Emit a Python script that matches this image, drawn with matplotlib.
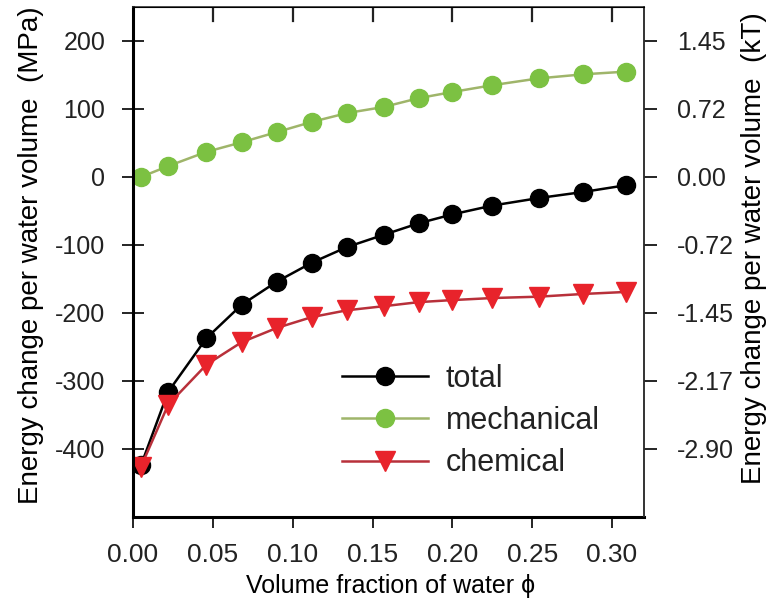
import matplotlib
matplotlib.use("Agg")
import matplotlib.pyplot as plt
from matplotlib.ticker import FormatStrFormatter

# valores
phi = [0.005, 0.022, 0.046, 0.068, 0.090, 0.112, 0.134, 0.157, 0.179, 0.200, 0.225, 0.254, 0.282, 0.309]
total = [-424, -316, -237, -188, -154, -126, -103, -85, -68, -55, -42, -31, -22, -12]
mechanical = [0, 16, 37, 51, 66, 81, 94, 103, 116, 125, 135, 145, 151, 155]
chemical = [-426, -335, -276, -243, -222, -206, -196, -190, -184, -181, -178, -176, -172, -169]

mpa_ticks = [200, 100, 0, -100, -200, -300, -400]
kt_labels = ["1.45", "0.72", "0.00", "-0.72", "-1.45", "-2.17", "-2.90"]
x_ticks = [0.00, 0.05, 0.10, 0.15, 0.20, 0.25, 0.30]

plt.rcParams["font.family"] = ["Liberation Sans", "DejaVu Sans"]
plt.rcParams["axes.unicode_minus"] = False
plt.rcParams["text.color"] = "#222222"


def plot_energy():
    fig = plt.figure(figsize=(7.71, 6.13), dpi=100)
    ax = fig.add_axes([133 / 771, 1 - 517 / 613, 511 / 771, 510 / 613])

    ax.plot(phi, total, "-o", color="black", lw=1.8, ms=13, label="total")
    ax.plot(phi, mechanical, "-o", color="#9fb56a", mfc="#7cc142", mec="#7cc142",
            lw=1.8, ms=13, label="mechanical")
    ax.plot(phi, chemical, "-v", color="#b8303a", mfc="#e8232b", mec="#e8232b",
            lw=1.8, ms=15, label="chemical")

    ax.set_xlim(0, 0.320)
    ax.set_ylim(-500, 250)
    ax.set_xticks(x_ticks)
    ax.xaxis.set_major_formatter(FormatStrFormatter("%.2f"))
    ax.set_yticks(mpa_ticks)

    for side in ["left", "bottom"]:
        ax.spines[side].set_linewidth(2.2)
    for side in ["top", "right"]:
        ax.spines[side].set_linewidth(1.2)
        ax.spines[side].set_color("#333333")

    ax.tick_params(axis="x", direction="out", length=8, width=1.2, pad=11,
                   labelsize=19, labelcolor="#222222")
    ax.tick_params(axis="y", direction="inout", length=16, width=1.2, pad=12,
                   labelsize=18, labelcolor="#222222")

    ax.set_xlabel("Volume fraction of water ϕ", fontsize=18)
    ax.xaxis.set_label_coords(0.505, -0.112)
    ax.set_ylabel("Energy change per water volume  (MPa)", fontsize=20)
    ax.yaxis.set_label_coords(-0.174, 0.514)

    # eje derecho en kT
    ax2 = ax.twinx()
    ax2.set_ylim(ax.get_ylim())
    ax2.set_yticks(mpa_ticks)
    ax2.set_yticklabels(kt_labels)
    ax2.tick_params(axis="y", direction="out", length=9, width=1.2, pad=15,
                    labelsize=18, labelcolor="#222222")
    ax2.spines["right"].set_linewidth(1.2)
    ax2.spines["right"].set_color("#333333")
    ax2.set_ylabel("Energy change per water volume  (kT)", fontsize=20)
    ax2.yaxis.set_label_coords(1.19, 0.527)

    # ticks internos arriba: marcas del eje x superior
    for xt in x_ticks[1:]:
        ax.axvline(xt, ymin=0.972, ymax=1.0, color="#222222", lw=1.6, zorder=6)

    ax.legend(loc="center left", bbox_to_anchor=(0.409, 0.188), frameon=False,
              fontsize=22, handlelength=2.8, handletextpad=0.6, labelspacing=0.4,
              borderpad=0, borderaxespad=0, numpoints=1)

    fig.savefig("out.png", dpi=100)


if __name__ == "__main__":
    plot_energy()
